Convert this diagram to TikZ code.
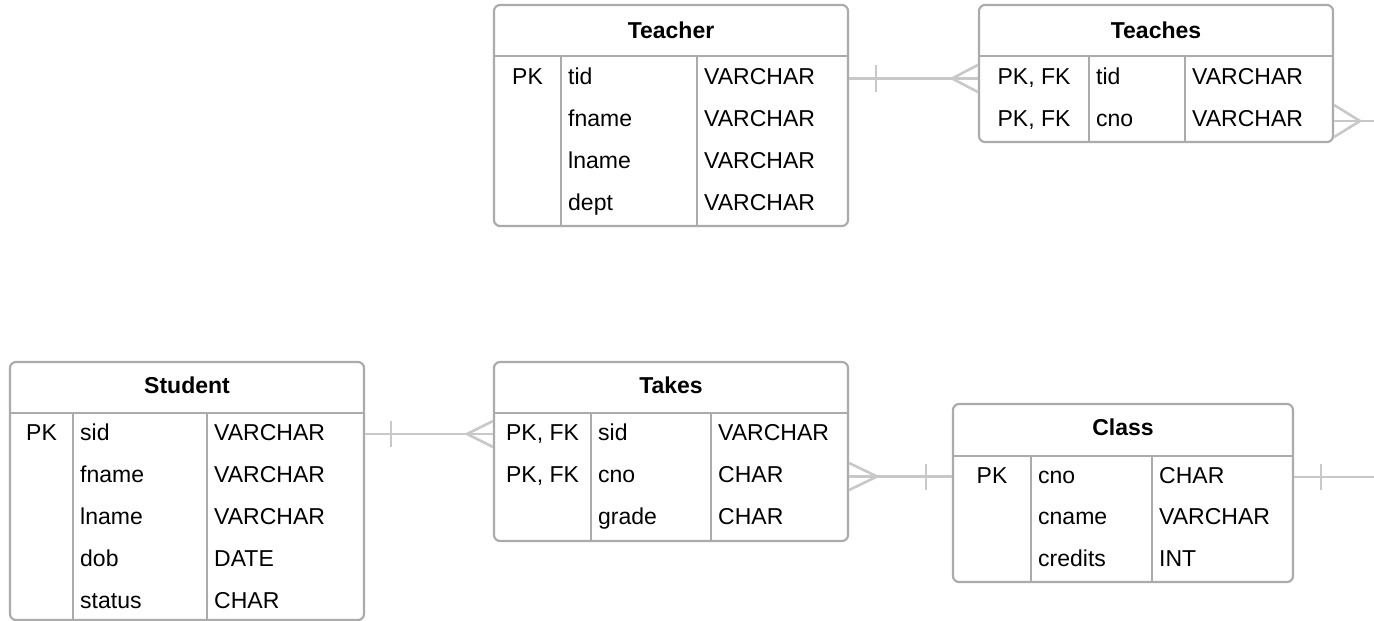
\documentclass[tikz,border=0pt]{standalone}
\usepackage{fontspec}
\setmainfont{Liberation Sans}
\usetikzlibrary{fit}
\definecolor{framegray}{HTML}{ABABAB}
\definecolor{linkgray}{HTML}{C8C8C8}
\newcommand{\cellfont}{\fontsize{23}{27}\selectfont}

% table frame: name, left, top, right, bottom, header rule, divider 1, divider 2
\newcommand{\ertable}[8]{%
  \node[tablebox, fit={(#2,#3) (#4,#5)}] (#1) {};
  \draw[gridline] (#2,#6) -- (#4,#6);
  \draw[gridline] (#7,#6) -- (#7,#5);
  \draw[gridline] (#8,#6) -- (#8,#5);
}

\begin{document}
\begin{tikzpicture}[x=1pt,y=-1pt,
  tablebox/.style={draw=framegray, line width=2.2pt, rounded corners=6pt, inner sep=0pt},
  gridline/.style={draw=framegray, line width=2pt},
  rel/.style={draw=linkgray, line width=2.6pt},
  cell/.style={anchor=base west, inner sep=0pt, font=\cellfont},
  key/.style={anchor=base, inner sep=0pt, font=\cellfont},
  heading/.style={anchor=base, inner sep=0pt, font=\cellfont\bfseries}]
\useasboundingbox (0,0) rectangle (1374,621);

% ---------- Teacher ----------
\ertable{teacher}{494}{5}{848}{226}{56}{561}{697}
\node[heading] (teacher-title) at (671,38) {Teacher};
\node[key] (teacher-pk) at (527.5,84) {PK};
\foreach \n/\a/\t [count=\i from 0] in {tid/VARCHAR, fname/VARCHAR, lname/VARCHAR, dept/VARCHAR}{
  \node[cell] (teacher-a\i) at (568,{84+42*\i}) {\n};
  \node[cell] (teacher-t\i) at (704,{84+42*\i}) {\a};
}

% ---------- Teaches ----------
\ertable{teaches}{979}{5}{1333}{142}{56}{1089}{1185}
\node[heading] (teaches-title) at (1156,38) {Teaches};
\foreach \n [count=\i from 0] in {tid, cno}{
  \node[key] (teaches-k\i) at (1034,{84+42*\i}) {PK, FK};
  \node[cell] (teaches-a\i) at (1096,{84+42*\i}) {\n};
  \node[cell] (teaches-t\i) at (1192,{84+42*\i}) {VARCHAR};
}

% ---------- Student ----------
\ertable{student}{10}{362}{364}{620}{413}{73}{207}
\node[heading] (student-title) at (187,393) {Student};
\node[key] (student-pk) at (41.5,440) {PK};
\foreach \n/\a [count=\i from 0] in {sid/VARCHAR, fname/VARCHAR, lname/VARCHAR, dob/DATE, status/CHAR}{
  \node[cell] (student-a\i) at (80,{440+42*\i}) {\n};
  \node[cell] (student-t\i) at (214,{440+42*\i}) {\a};
}

% ---------- Takes ----------
\ertable{takes}{494}{362}{848}{541}{413}{591}{711}
\node[heading] (takes-title) at (671,393) {Takes};
\node[key] (takes-k0) at (542.5,440) {PK, FK};
\node[key] (takes-k1) at (542.5,482) {PK, FK};
\foreach \n/\a [count=\i from 0] in {sid/VARCHAR, cno/CHAR, grade/CHAR}{
  \node[cell] (takes-a\i) at (598,{440+42*\i}) {\n};
  \node[cell] (takes-t\i) at (718,{440+42*\i}) {\a};
}

% ---------- Class ----------
\ertable{class}{953}{404}{1293}{582}{456}{1031}{1152}
\node[heading] (class-title) at (1123,435) {Class};
\node[key] (class-pk) at (992,483) {PK};
\foreach \n/\a [count=\i from 0] in {cno/CHAR, cname/VARCHAR, credits/INT}{
  \node[cell] (class-a\i) at (1038,{483+41.5*\i}) {\n};
  \node[cell] (class-t\i) at (1159,{483+41.5*\i}) {\a};
}

% ---------- relationships ----------
\coordinate (teaches-out) at (1374,121);
\coordinate (class-out) at (1374,477);

% Teacher (one) -- Teaches (many)
\draw[rel] (teacher.east |- 0,78.5) -- (teaches.west |- 0,78.5);
\draw[rel] (876,65) -- (876,92);
\draw[rel] (teaches.west |- 0,65) -- (952,78.5) -- (teaches.west |- 0,92);

% Teaches (many) -- off to the right
\draw[rel] (teaches.east |- 0,121) -- (teaches-out);
\draw[rel] (teaches.east |- 0,105) -- (1360,121) -- (teaches.east |- 0,137);

% Student (one) -- Takes (many)
\draw[rel] (student.east |- 0,434) -- (takes.west |- 0,434);
\draw[rel] (391,421) -- (391,447);
\draw[rel] (takes.west |- 0,421) -- (467,434) -- (takes.west |- 0,447);

% Takes (many) -- Class (one)
\draw[rel] (takes.east |- 0,476.5) -- (class.west |- 0,476.5);
\draw[rel] (takes.east |- 0,463) -- (877,476.5) -- (takes.east |- 0,490);
\draw[rel] (926,464) -- (926,490);

% Class (one) -- off to the right
\draw[rel] (class.east |- 0,477) -- (class-out);
\draw[rel] (1321,464) -- (1321,490);
\end{tikzpicture}
\end{document}
